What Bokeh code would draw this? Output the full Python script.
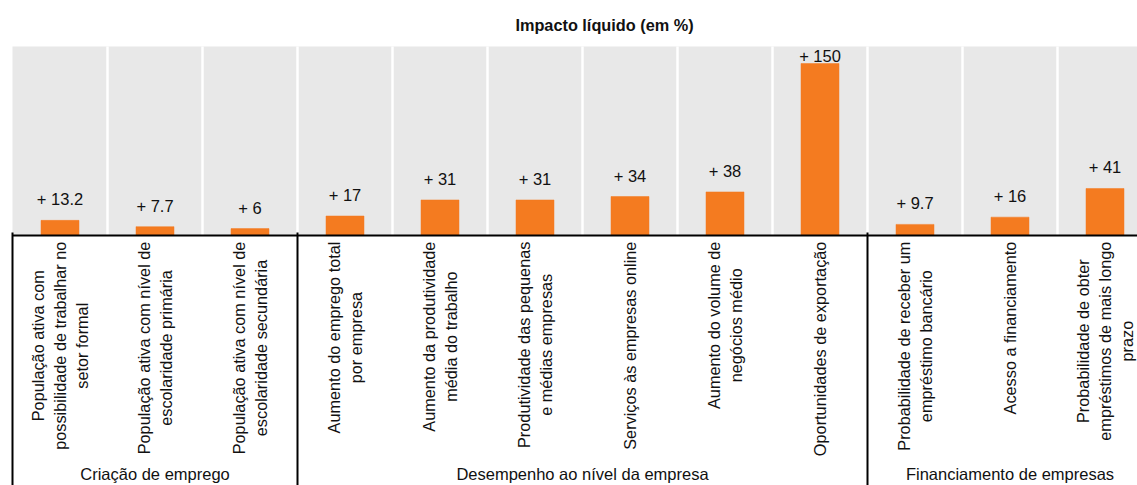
import numpy as np
from bokeh.plotting import figure
from bokeh.models import Range1d, ColumnDataSource
from bokeh.core.properties import value
from bokeh.embed import file_html
from bokeh.resources import INLINE

# ---------------- data ----------------
categories = [
    "População ativa com\npossibilidade de trabalhar no\nsetor formal",
    "População ativa com nível de\nescolaridade primária",
    "População ativa com nível de\nescolaridade secundária",
    "Aumento do emprego total\npor empresa",
    "Aumento da produtividade\nmédia do trabalho",
    "Produtividade das pequenas\ne médias empresas",
    "Serviços às empresas online",
    "Aumento do volume de\nnegócios médio",
    "Oportunidades de exportação",
    "Probabilidade de receber um\nempréstimo bancário",
    "Acesso a financiamento",
    "Probabilidade de obter\nempréstimos de mais longo\nprazo",
]
values = [13.2, 7.7, 6, 17, 31, 31, 34, 38, 150, 9.7, 16, 41]
groups = ["Criação de emprego", "Desempenho ao nível da empresa", "Financiamento de empresas"]
group_sizes = [3, 6, 3]
title_text = "Impacto líquido (em %)"

# ---------------- layout helpers ----------------
FONT = "Liberation Sans"
ORANGE = "#F47B20"
GRAY = "#E8E8E8"
COL_PX = 95.0
LEFT_PX = 12.0
BASE_PX = 235.0
K = 172.0 / 150.0  # px per unit
BL_FIX = 7.0       # renderer places alphabetic baselines this much lower

def xd(px):
    return (px - LEFT_PX) / COL_PX

def yd(px):
    return (BASE_PX - px) / K

ARIAL = {
    'a': 556, 'b': 556, 'c': 500, 'd': 556, 'e': 556, 'f': 278, 'g': 556, 'h': 556, 'i': 222,
    'j': 222, 'k': 500, 'l': 222, 'm': 833, 'n': 556, 'o': 556, 'p': 556, 'q': 556, 'r': 333,
    's': 500, 't': 278, 'u': 556, 'v': 500, 'w': 722, 'x': 500, 'y': 500, 'z': 500,
    'A': 667, 'B': 667, 'C': 722, 'D': 722, 'E': 667, 'F': 611, 'G': 778, 'H': 722, 'I': 278,
    'P': 667, 'O': 778, 'S': 667, 'N': 722, 'M': 833, 'R': 722, 'T': 611,
    ' ': 278, 'á': 556, 'à': 556, 'ã': 556, 'â': 556, 'é': 556, 'ê': 556, 'í': 278,
    'ó': 556, 'ô': 556, 'õ': 556, 'ú': 556, 'ç': 500,
}

CAT_FS = 16.3

def text_len(s, fs=CAT_FS):
    return sum(ARIAL.get(c, 556) for c in s) / 1000.0 * fs

n = len(values)
xc = np.arange(n) + 0.5
vals = np.array(values, dtype=float)

p = figure(width=1137, height=485, output_backend="svg", toolbar_location=None,
           x_range=Range1d(xd(0), xd(1137)), y_range=Range1d(yd(485), yd(0)),
           min_border=0, min_border_left=0, min_border_right=0,
           min_border_top=0, min_border_bottom=0)
p.xaxis.visible = False
p.yaxis.visible = False
p.xgrid.visible = False
p.ygrid.visible = False
p.outline_line_color = None
p.background_fill_color = "white"
p.border_fill_color = "white"

# gray panel with white separators
panel_top = yd(46)
p.quad(left=0, right=n, bottom=0, top=panel_top, fill_color=GRAY, line_color=None)
sep_x = np.arange(1, n)
p.segment(x0=sep_x, x1=sep_x, y0=np.zeros(n - 1), y1=np.full(n - 1, panel_top),
          line_color="white", line_width=2.5)

# bars
src = ColumnDataSource(dict(x=xc, top=vals,
                            lab=[f"+ {v:g}" for v in values],
                            ly=np.minimum(vals + (14.0 + BL_FIX) / K, yd(62 - BL_FIX))))
p.vbar(x="x", top="top", bottom=0, width=0.4, source=src,
       fill_color=ORANGE, line_color=ORANGE, line_width=0.5)
p.text(x="x", y="ly", text="lab", source=src, text_align="center",
       text_baseline="alphabetic", text_font=value(FONT), text_font_size="16.5px",
       text_color="#111111")

# baseline and group dividers
p.segment(x0=[0], x1=[n + 1], y0=[0], y1=[0], line_color="black", line_width=2)
bounds = np.concatenate([[0], np.cumsum(group_sizes)])
p.segment(x0=bounds, x1=bounds, y0=np.full(len(bounds), yd(232)),
          y1=np.full(len(bounds), yd(490)), line_color="black", line_width=2)

# rotated category labels (lines centered, block anchored at top)
LINE_PX = 22.0
TOP_TEXT_PX = 241.0
lx, ly, lt = [], [], []
for i, cat in enumerate(categories):
    lines = cat.split("\n")
    m = len(lines)
    longest = max(text_len(s) for s in lines)
    cy = yd(TOP_TEXT_PX + longest / 2.0)
    for j, s in enumerate(lines):
        lx.append(xc[i] + (j - (m - 1) / 2.0) * LINE_PX / COL_PX)
        ly.append(cy)
        lt.append(s)
p.text(x=lx, y=ly, text=lt, angle=np.pi / 2, text_align="center", text_baseline="middle",
       text_font=value(FONT), text_font_size=f"{CAT_FS}px", text_color="#111111")

# group labels
gx = (bounds[:-1] + bounds[1:]) / 2.0
p.text(x=gx, y=np.full(len(gx), yd(480 - BL_FIX)), text=groups, text_align="center",
       text_baseline="alphabetic", text_font=value(FONT), text_font_size="16.5px",
       text_color="#111111")

# title
p.text(x=[xd(604)], y=[yd(31 - BL_FIX)], text=[title_text], text_align="center",
       text_baseline="alphabetic", text_font=value(FONT), text_font_size="16.3px",
       text_font_style="bold", text_color="#111111")

open("out.html", "w").write(file_html(p, INLINE))
